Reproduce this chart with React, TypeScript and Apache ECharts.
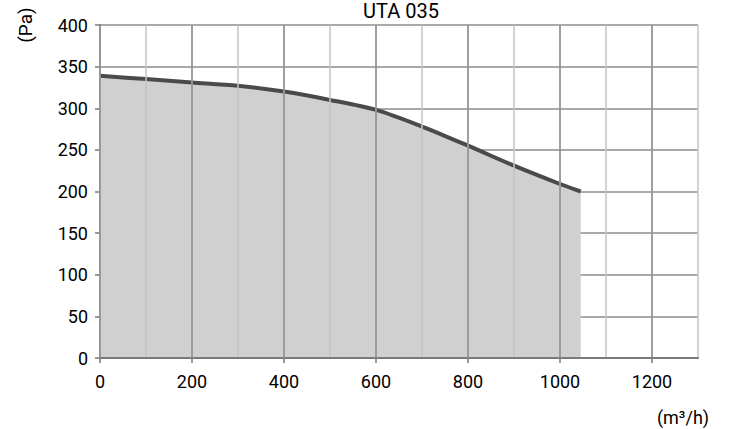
import React, { useEffect, useRef } from "react";
import * as echarts from "echarts";

const flowValues = [0, 100, 200, 300, 400, 500, 600, 700, 800, 900, 1000, 1045];
const pressureValues = [339, 335, 331, 327, 320, 310, 298, 278, 255, 231, 209, 200];
const xTickLabels = [0, 200, 400, 600, 800, 1000, 1200];
const yTickLabels = [0, 50, 100, 150, 200, 250, 300, 350, 400];
const chartTitle = "UTA 035";
const yUnit = "(Pa)";
const xUnit = "(m³/h)";

const FONT = "Roboto, 'Liberation Sans', sans-serif";

export default function App() {
  const ref = useRef<HTMLDivElement>(null);
  useEffect(() => {
    document.body.style.margin = "0";
    if (!ref.current) return;
    const chart = echarts.init(ref.current, undefined, { renderer: "svg" });
    const data = flowValues.map((x, i) => [x, pressureValues[i]]);
    chart.setOption({
      animation: false,
      backgroundColor: "#ffffff",
      grid: { left: 100, right: 32, top: 25, bottom: 71, containLabel: false },
      xAxis: [
        {
          type: "value",
          position: "bottom",
          min: 0,
          max: 1300,
          interval: 100,
          axisLine: { show: true, lineStyle: { color: "#7a7a7a", width: 2 } },
          axisTick: { show: false },
          axisLabel: {
            show: true,
            customValues: xTickLabels,
            formatter: (v: number) => String(v),
            margin: 14,
            color: "#000",
            fontSize: 18,
            fontFamily: FONT,
          },
          splitLine: { show: true, lineStyle: { color: "#c4c4c4", width: 1.5 } },
          z: 2,
        },
        {
          type: "value",
          position: "bottom",
          offset: 0,
          min: 0,
          max: 1300,
          interval: 100,
          axisLine: { show: false },
          axisTick: {
            show: true,
            length: 5,
            customValues: xTickLabels,
            lineStyle: { color: "#7a7a7a", width: 1.5 },
          },
          axisLabel: { show: false },
          splitLine: { show: true, lineStyle: { color: "#8c8c8c", width: 1.5 } },
          z: 3,
        },
      ],
      yAxis: {
        type: "value",
        min: 0,
        max: 400,
        interval: 50,
        axisLine: { show: true, lineStyle: { color: "#7a7a7a", width: 2 } },
        axisTick: { show: true, length: 5, lineStyle: { color: "#7a7a7a", width: 1.5 } },
        axisLabel: {
          show: true,
          margin: 12,
          color: "#000",
          fontSize: 18,
          fontFamily: FONT,
          customValues: yTickLabels,
        },
        splitLine: { show: true, lineStyle: { color: "#8c8c8c", width: 1.5 } },
      },
      series: [
        {
          type: "line",
          xAxisIndex: 0,
          data,
          smooth: 0.3,
          showSymbol: false,
          symbol: "none",
          lineStyle: { color: "#4a4a4a", width: 4 },
          areaStyle: { color: "#d0d0d0", opacity: 1 },
          z: 1,
        },
      ],
      graphic: [
        {
          type: "text",
          x: 401,
          y: 11,
          style: {
            text: chartTitle,
            fill: "#000",
            fontSize: 20,
            fontFamily: FONT,
            align: "center",
            verticalAlign: "middle",
          },
        },
        {
          type: "text",
          x: 25,
          y: 25,
          rotation: Math.PI / 2,
          style: {
            text: yUnit,
            fill: "#000",
            fontSize: 19,
            fontFamily: FONT,
            align: "center",
            verticalAlign: "middle",
          },
        },
        {
          type: "text",
          x: 683,
          y: 417,
          style: {
            text: xUnit,
            fill: "#000",
            fontSize: 18,
            fontFamily: FONT,
            align: "center",
            verticalAlign: "middle",
          },
        },
      ],
    });
    return () => chart.dispose();
  }, []);
  return <div ref={ref} style={{ width: 730, height: 429 }} />;
}
